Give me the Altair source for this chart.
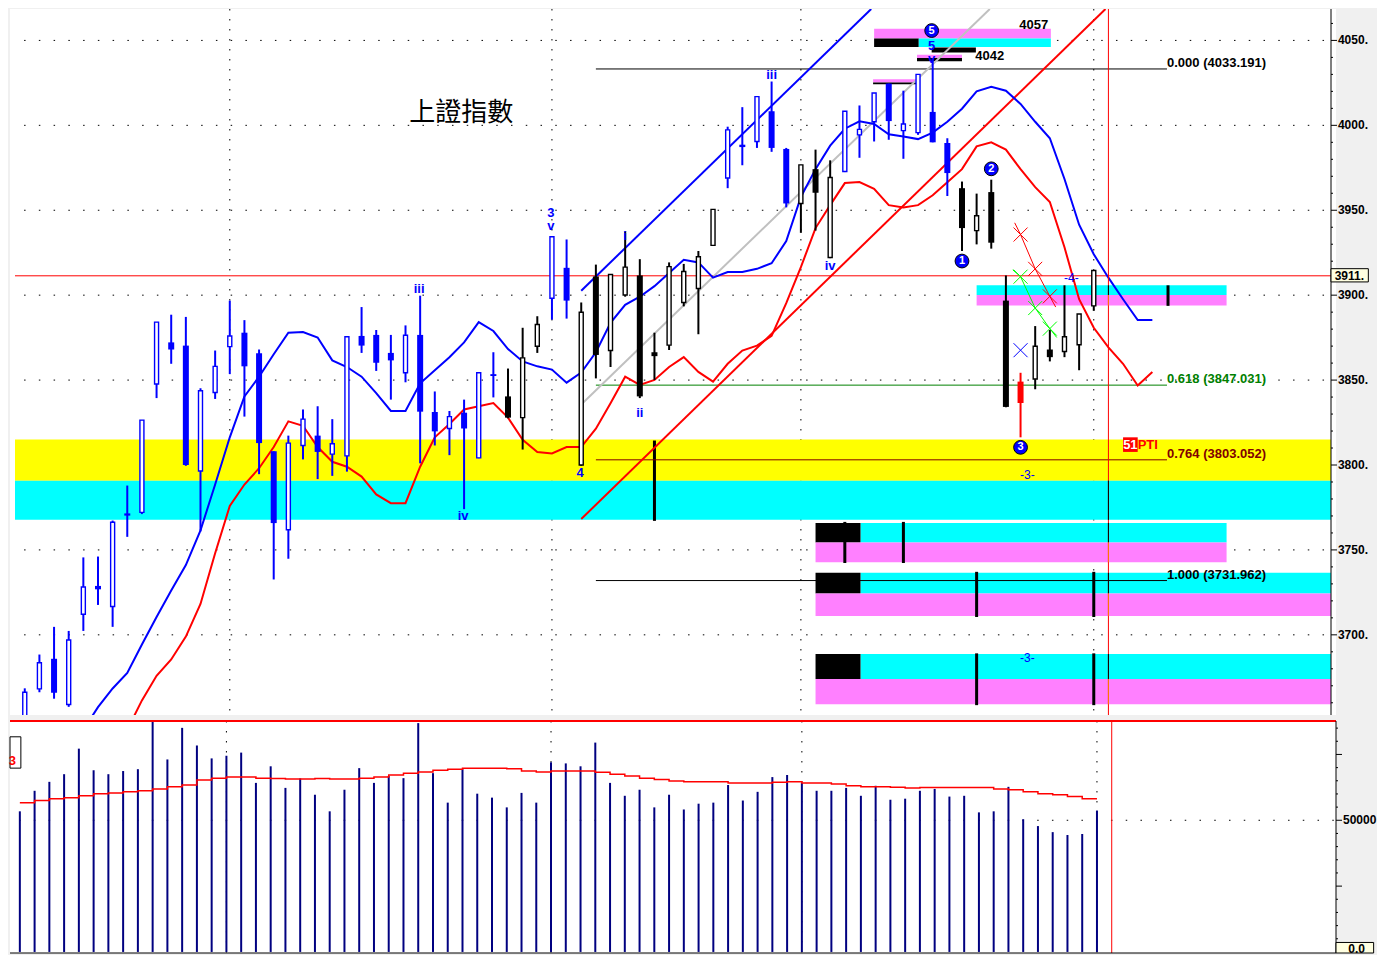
import altair as alt
import pandas as pd

# ---------------- values ----------------
candle_i = list(range(74))
opens = [3648.0, 3668.2, 3685.9, 3659.0, 3712.1, 3728.8, 3716.7, 3771.5, 3772.1, 3847.7,
         3872.2, 3870.3, 3796.5, 3842.7, 3869.7, 3877.9, 3865.8, 3808.1, 3761.9, 3811.5,
         3817.3, 3806.4, 3805.4, 3876.0, 3876.6, 3866.0, 3854.3, 3876.6, 3831.2, 3821.5,
         3830.8, 3804.2, 3853.5, 3840.4, 3827.9, 3869.9, 3898.2, 3916.1, 3800.0, 3911.0,
         3867.4, 3900.1, 3911.6, 3866.4, 3870.6, 3895.7, 3903.9, 3929.3, 3969.0, 3988.6,
         3990.5, 4008.3, 3986.1, 3954.0, 3974.2, 3922.2, 3972.8, 3994.4, 4002.1, 4024.6,
         3996.9, 3995.7, 4007.9, 3989.6, 3963.0, 3938.0, 3960.7, 3896.8, 3849.1, 3850.6,
         3868.0, 3866.8, 3870.8, 3893.7]
highs = [3668.5, 3688.4, 3704.7, 3702.3, 3745.6, 3746.1, 3767.3, 3787.9, 3826.4, 3884.1,
         3888.5, 3887.2, 3845.2, 3867.4, 3896.8, 3885.3, 3868.0, 3808.1, 3817.3, 3832.7,
         3834.6, 3827.0, 3875.5, 3893.0, 3879.5, 3876.6, 3882.2, 3899.7, 3843.3, 3831.8,
         3838.5, 3854.3, 3866.4, 3856.8, 3880.8, 3887.6, 3934.4, 3932.8, 3895.7, 3918.0,
         3912.2, 3937.6, 3921.2, 3877.9, 3919.3, 3918.4, 3926.0, 3950.5, 3999.2, 4010.7,
         4016.9, 4025.8, 3986.7, 3976.7, 3985.7, 3979.4, 4008.3, 4011.7, 4019.0, 4024.6,
         4020.4, 4030.0, 4039.6, 3992.4, 3966.9, 3959.8, 3968.0, 3911.6, 3854.3, 3881.8,
         3879.5, 3905.8, 3888.9, 3914.5]
lows = [3645.0, 3666.2, 3662.4, 3657.6, 3702.3, 3717.6, 3704.7, 3757.7, 3771.1, 3839.4,
        3859.6, 3799.5, 3760.9, 3838.9, 3853.5, 3828.5, 3794.6, 3732.6, 3744.8, 3803.3,
        3791.7, 3793.6, 3796.1, 3866.0, 3855.4, 3838.5, 3848.7, 3801.0, 3811.5, 3805.8,
        3774.0, 3804.0, 3839.8, 3827.5, 3809.1, 3866.0, 3885.6, 3886.2, 3799.5, 3851.0,
        3857.7, 3899.1, 3839.4, 3850.1, 3867.7, 3893.4, 3877.0, 3929.0, 3963.0, 3976.5,
        3986.7, 3984.4, 3951.7, 3936.7, 3938.0, 3921.8, 3972.5, 3980.9, 3990.5, 3991.5,
        3980.3, 3994.4, 3990.0, 3958.4, 3926.0, 3929.9, 3927.4, 3834.0, 3816.3, 3844.6,
        3861.0, 3863.5, 3855.8, 3890.8]
closes = [3666.2, 3683.6, 3665.9, 3697.0, 3728.2, 3726.8, 3766.3, 3770.2, 3826.4, 3884.1,
          3868.0, 3800.0, 3843.7, 3858.1, 3876.0, 3858.1, 3812.9, 3765.8, 3812.9, 3827.0,
          3807.7, 3812.5, 3875.5, 3870.3, 3860.2, 3861.6, 3876.4, 3831.4, 3819.8, 3828.5,
          3821.5, 3854.3, 3852.4, 3827.9, 3863.1, 3882.7, 3934.4, 3896.8, 3889.9, 3864.8,
          3912.2, 3916.5, 3840.4, 3864.1, 3916.8, 3913.9, 3922.6, 3950.5, 3997.3, 3987.2,
          4016.9, 3986.7, 3954.0, 3976.7, 3960.3, 3969.3, 4008.3, 3997.6, 4019.0, 4002.5,
          4000.8, 4030.0, 3990.0, 3971.9, 3939.5, 3946.8, 3930.9, 3834.2, 3836.5, 3869.9,
          3863.5, 3875.5, 3888.9, 3914.5]
candle_colors = (["#0000ff"] * 33 + ["#000000"] * 3 + ["#0000ff"] * 2 + ["#000000"] * 10
                 + ["#0000ff"] * 5 + ["#000000"] * 3 + ["#0000ff"] * 8 + ["#000000"] * 4
                 + ["#ff0000"] + ["#000000"] * 5)

volumes = [53400, 61200, 64600, 67500, 77200, 69000, 67500, 68700, 69400, 87600,
           73100, 85100, 78400, 73500, 74500, 75700, 64200, 70500, 62300, 65900,
           59700, 53400, 61600, 69800, 64200, 66800, 66000, 86900, 67900, 56700,
           69400, 60100, 58600, 54900, 60400, 56700, 72000, 71600, 70500, 79500,
           64200, 59300, 61600, 54900, 59700, 54100, 56300, 56700, 63400, 57500,
           60800, 66400, 67200, 64200, 61200, 61200, 62300, 59300, 63100, 57800,
           58200, 61200, 61900, 59000, 59300, 53000, 53400, 62700, 50400, 47800,
           45500, 44400, 44800, 53700]
volume_ma = [56700, 57500, 58200, 58600, 59300, 60100, 60400, 60800, 61200, 61900,
             62700, 63400, 65300, 66000, 66400, 66400, 66000, 65900, 65700, 65700,
             65900, 65700, 65700, 66000, 66400, 67200, 67900, 68300, 69000, 69400,
             69800, 69800, 69800, 69600, 68700, 68300, 68700, 68700, 68700, 68200,
             67500, 66800, 66000, 65500, 64900, 64600, 64600, 64600, 64200, 64200,
             64200, 64400, 64600, 64200, 64200, 63800, 63100, 62700, 62700, 62500,
             62300, 62400, 62400, 62400, 62400, 62400, 61900, 61600, 60800, 60100,
             59700, 59000, 58200, 58200]

blue_ma_i = list(range(4, 78))
blue_ma = [3644.1, 3657.4, 3668.4, 3677.6, 3694.3, 3710.5, 3726.1, 3741.1, 3761.5, 3788.5,
           3816.3, 3840.4, 3852.0, 3865.2, 3877.9, 3878.3, 3875.1, 3861.6, 3857.7, 3852.0,
           3842.3, 3831.8, 3831.8, 3848.1, 3855.8, 3863.5, 3872.2, 3884.1, 3878.9, 3868.3,
           3861.0, 3858.1, 3856.2, 3848.5, 3854.4, 3866.4, 3883.7, 3894.3, 3899.1, 3905.3,
           3913.0, 3920.8, 3919.3, 3910.3, 3913.6, 3913.6, 3915.5, 3918.8, 3931.8, 3957.8,
           3974.2, 3988.0, 3998.0, 4002.4, 4000.8, 3994.7, 3993.4, 3991.9, 3995.7, 4002.1,
           4009.8, 4020.0, 4022.7, 4020.4, 4012.6, 4002.1, 3992.4, 3968.4, 3941.5, 3924.1,
           3910.3, 3897.6, 3885.4, 3885.4]
red_ma_i = list(range(7, 78))
red_ma = [3644.1, 3661.4, 3675.9, 3685.5, 3699.0, 3718.2, 3748.0, 3775.9, 3788.5, 3798.1,
          3810.6, 3825.7, 3823.1, 3810.6, 3801.9, 3799.0, 3793.2, 3782.7, 3777.5, 3777.5,
          3799.0, 3816.3, 3824.1, 3832.7, 3834.6, 3836.5, 3827.9, 3814.8, 3807.7, 3806.8,
          3810.6, 3810.6, 3821.4, 3836.4, 3852.0, 3847.2, 3850.1, 3857.7, 3863.5, 3854.8,
          3849.1, 3859.6, 3867.4, 3870.3, 3876.0, 3895.3, 3916.5, 3939.5, 3953.0, 3966.0,
          3966.6, 3962.6, 3953.0, 3951.7, 3953.0, 3958.8, 3966.5, 3974.2, 3987.6, 3990.0,
          3985.7, 3974.2, 3963.6, 3954.9, 3928.2, 3897.6, 3880.8, 3869.3, 3859.6, 3846.8,
          3854.8]

# channel lines: (segment, index, price)
chan_seg = ["blue", "blue", "gray", "gray", "red", "red"]
chan_i = [38.0, 57.8, 38.0, 65.9, 38.0, 73.8]
chan_p = [3902.6, 4068.5, 3835.6, 4068.5, 3768.2, 4068.5]
chan_col = ["#0000ff", "#0000ff", "#c0c0c0", "#c0c0c0", "#ff0000", "#ff0000"]

# fibonacci levels
fib_levels = [4033.191, 3847.031, 3803.052, 3731.962]
fib_labels = ["0.000 (4033.191)", "0.618 (3847.031)", "0.764 (3803.052)", "1.000 (3731.962)"]
fib_colors = ["#000000", "#008000", "#800000", "#000000"]
fib_start, fib_end = 39.0, 78.0

last_price = 3911.4
cursor_i = 74.0

# zones (x1, x2, p1, p2, colour)
zone_x1 = [-0.667, -0.667, 65.0, 65.0, 57.07, 54.0, 54.0, 57.07, 54.0, 54.0, 57.07, 54.0, 54.0,
           58.0, 58.0, 61.05, 61.93, 60.93, 60.93, 57.93, 57.93]
zone_x2 = [89.2, 89.2, 82.07, 82.07, 82.07, 57.07, 82.07, 89.2, 57.07, 89.2, 89.2, 57.07, 89.2,
           70.07, 61.05, 70.07, 64.95, 64.0, 64.0, 61.0, 61.0]
zone_p1 = [3790.8, 3767.7, 3900.1, 3893.9, 3754.4, 3754.4, 3742.8, 3724.4, 3724.4, 3711.1, 3674.0, 3674.0, 3659.1,
           4051.2, 4046.1, 4046.1, 4042.9, 4039.6, 4037.7, 4025.2, 4024.2]
zone_p2 = [3815.0, 3790.8, 3905.8, 3900.1, 3765.9, 3765.9, 3754.4, 3736.5, 3736.5, 3724.4, 3688.7, 3688.7, 3674.0,
           4056.9, 4051.2, 4051.2, 4045.8, 4041.5, 4039.6, 4027.1, 4025.2]
zone_col = ["#ffff00", "#00ffff", "#00ffff", "#ff80ff", "#00ffff", "#000000", "#ff80ff", "#00ffff", "#000000",
            "#ff80ff", "#00ffff", "#000000", "#ff80ff",
            "#ff80ff", "#000000", "#00ffff", "#000000", "#ff80ff", "#000000", "#ff80ff", "#000000"]

# thick black projection bars
bar_i = [56.0, 60.0, 65.0, 73.0, 65.0, 73.0, 43.0, 78.07]
bar_p1 = [3742.3, 3742.3, 3710.5, 3710.5, 3658.6, 3658.6, 3767.1, 3893.7]
bar_p2 = [3766.5, 3766.5, 3737.1, 3737.1, 3689.1, 3689.1, 3814.4, 3905.8]

# cursor line crossing the zones
xor_p1 = [3767.7, 3754.4, 3724.4, 3674.0, 3900.1, 3742.8, 3711.1, 3659.1, 3893.9]
xor_p2 = [3790.8, 3765.9, 3736.5, 3688.7, 3905.8, 3754.4, 3724.4, 3674.0, 3900.1]
xor_col = ["#000000"] * 5 + ["#ff8000"] * 4

# X markers
xm_i = [68.0, 69.0, 70.0, 68.0, 69.0, 70.0, 68.0]
xm_p = [3935.7, 3915.5, 3899.3, 3910.9, 3892.4, 3880.3, 3867.6]
xm_col = ["#ff0000"] * 3 + ["#00ff00"] * 3 + ["#0000ff"]
thin_seg = ["r", "r", "r", "r", "r", "g", "g", "g", "g", "g"]
thin_i = [67.6, 68.0, 69.0, 70.0, 70.4, 67.47, 68.0, 69.0, 70.0, 70.47]
thin_p = [3942.6, 3935.7, 3915.5, 3899.3, 3893.0, 3914.9, 3910.9, 3892.4, 3880.3, 3875.1]
thin_col = ["#ff0000"] * 5 + ["#00ff00"] * 5

# wave labels
wave_i = [35.93, 35.93, 26.93, 29.93, 37.93, 41.0, 42.0, 51.0, 55.0, 61.93, 61.93]
wave_p = [3948.4, 3940.9, 3903.9, 3770.0, 3795.4, 3935.1, 3830.6, 4029.8, 3917.2, 4046.5, 4039.0]
wave_t = ["3", "v", "iii", "iv", "4", "i", "ii", "iii", "iv", "5", "v"]
small_i = [71.47, 68.47, 68.47]
small_p = [3910.3, 3794.2, 3686.3]
small_t = ["-4-", "-3-", "-3-"]

circ_i = [61.93, 64.0, 66.0, 68.0]
circ_p = [4055.8, 3920.1, 3974.4, 3810.4]
circ_t = ["5", "1", "2", "3"]

tag_i = [68.9, 65.9]
tag_p = [4059.2, 4040.8]
tag_t = ["4057", "4042"]

month_i = [14.0, 36.0, 53.0, 73.0]

price_ticks = list(range(3660, 4061, 10))
price_labels = list(range(3700, 4051, 50))
vol_ticks = list(range(0, 85001, 5000))
vol_labels = [50000]

# ---------------- layout constants ----------------
W, H1, H2 = 1326, 706, 232
XMIN, XMAX = -0.667, 89.2
PMIN, PMAX = 3652.8, 4068.5
VMIN, VMAX = -400, 87700
PX = W / (XMAX - XMIN)
dash_off = PX - ((0 - XMIN) * PX - 0.75)
NUM_FONT = "Liberation Sans"

xs = alt.Scale(domain=[XMIN, XMAX], nice=False, zero=False)
ys = alt.Scale(domain=[PMIN, PMAX], nice=False, zero=False)
vs = alt.Scale(domain=[VMIN, VMAX], nice=False, zero=False)

hidden_axis = alt.Axis(orient="right", labels=False, ticks=False, domain=False, grid=False, title=None)


def X(f):
    return alt.X(f"{f}:Q", scale=xs, axis=None, title=None)


def Y(f):
    return alt.Y(f"{f}:Q", scale=ys, axis=None, title=None)


def V(f):
    return alt.Y(f"{f}:Q", scale=vs, axis=None, title=None)


# ---------------- tables ----------------
cd = pd.DataFrame({"i": candle_i, "o": opens, "h": highs, "l": lows, "c": closes, "col": candle_colors})
cd["hollow"] = cd["c"] >= cd["o"]
hollow = cd[cd["hollow"]]
solid = cd[~cd["hollow"]]

grid_df = pd.DataFrame({"p": price_labels, "x1": XMIN, "x2": XMAX})
month_df = pd.DataFrame({"i": month_i})
zones = pd.DataFrame({"x1": zone_x1, "x2": zone_x2, "p1": zone_p1, "p2": zone_p2, "col": zone_col})
bars = pd.DataFrame({"i": bar_i, "p1": bar_p1, "p2": bar_p2})
fib = pd.DataFrame({"p": fib_levels, "t": fib_labels, "col": fib_colors, "x1": fib_start, "x2": fib_end})
chan = pd.DataFrame({"seg": chan_seg, "i": chan_i, "p": chan_p, "col": chan_col})
bma = pd.DataFrame({"i": blue_ma_i, "p": blue_ma})
rma = pd.DataFrame({"i": red_ma_i, "p": red_ma})
xor = pd.DataFrame({"p1": xor_p1, "p2": xor_p2, "col": xor_col, "i": cursor_i})
xm = pd.DataFrame({"i": xm_i, "p": xm_p, "col": xm_col})
thin = pd.DataFrame({"seg": thin_seg, "i": thin_i, "p": thin_p, "col": thin_col})
waves = pd.DataFrame({"i": wave_i, "p": wave_p, "t": wave_t})
smalls = pd.DataFrame({"i": small_i, "p": small_p, "t": small_t})
circs = pd.DataFrame({"i": circ_i, "p": circ_p, "t": circ_t})
tags = pd.DataFrame({"i": tag_i, "p": tag_p, "t": tag_t})

# hand-drawn right axis (ticks + labels outside the plot area)
pt = pd.DataFrame({"p": price_ticks})
pt["x1"] = XMAX
pt["x2"] = XMAX + pt["p"].apply(lambda v: 6 if v % 50 == 0 else 2) / PX
pl = pd.DataFrame({"p": price_labels, "t": [f"{v}." for v in price_labels]})
pl["xl"] = XMAX + 7 / PX
vt = pd.DataFrame({"v": vol_ticks})
vt["x1"] = XMAX
vt["x2"] = XMAX + vt["v"].apply(lambda v: 6 if v % 25000 == 0 else 2) / PX
vl = pd.DataFrame({"v": vol_labels, "t": [str(v) for v in vol_labels]})
vl["xl"] = XMAX + 7 / PX

# ---------------- price panel ----------------
grid = alt.Chart(grid_df).mark_rule(
    color="black", strokeWidth=1, strokeDash=[1.5, PX - 1.5], strokeDashOffset=dash_off
).encode(x=X("x1"), x2="x2:Q", y=alt.Y("p:Q", scale=ys, axis=hidden_axis, title=None))

months = alt.Chart(month_df).mark_rule(color="black", strokeWidth=1, strokeDash=[1.5, 8.5]).encode(
    x=X("i"), y=alt.datum(PMAX, scale=ys), y2=alt.datum(PMIN))

zone_layer = alt.Chart(zones).mark_rect(clip=True).encode(
    x=X("x1"), x2="x2:Q", y=Y("p1"), y2="p2:Q", color=alt.Color("col:N", scale=None))

bar_layer = alt.Chart(bars).mark_rule(color="black", strokeWidth=3, clip=True).encode(
    x=X("i"), y=Y("p1"), y2="p2:Q")

fib_lines = alt.Chart(fib).mark_rule(strokeWidth=1).encode(
    x=X("x1"), x2="x2:Q", y=Y("p"), color=alt.Color("col:N", scale=None))
fib_text = alt.Chart(fib).mark_text(
    align="left", baseline="bottom", dy=1, font=NUM_FONT, fontSize=13, fontWeight="bold").encode(
    x=X("x2"), y=Y("p"), text="t:N", color=alt.Color("col:N", scale=None))

last_line = alt.Chart(pd.DataFrame({"p": [last_price], "x1": [XMIN], "x2": [XMAX]})).mark_rule(
    color="#ff0000", strokeWidth=1).encode(x=X("x1"), x2="x2:Q", y=Y("p"))

chan_layer = alt.Chart(chan).mark_line(strokeWidth=2, clip=True).encode(
    x=X("i"), y=Y("p"), detail="seg:N", color=alt.Color("col:N", scale=None))

bma_layer = alt.Chart(bma).mark_line(color="#0000ff", strokeWidth=2, clip=True).encode(x=X("i"), y=Y("p"))
rma_layer = alt.Chart(rma).mark_line(color="#ff0000", strokeWidth=2, clip=True).encode(x=X("i"), y=Y("p"))

cursor = alt.Chart(pd.DataFrame({"i": [cursor_i]})).mark_rule(color="#ff0000", strokeWidth=1).encode(
    x=X("i"), y=alt.datum(PMAX, scale=ys), y2=alt.datum(PMIN))
xor_layer = alt.Chart(xor).mark_rule(strokeWidth=1).encode(
    x=X("i"), y=Y("p1"), y2="p2:Q", color=alt.Color("col:N", scale=None))

wicks = alt.Chart(cd).mark_rule(strokeWidth=2, clip=True).encode(
    x=X("i"), y=Y("l"), y2="h:Q", color=alt.Color("col:N", scale=None))
solid_bodies = alt.Chart(solid).mark_bar(size=6, clip=True).encode(
    x=X("i"), y=Y("o"), y2="c:Q", color=alt.Color("col:N", scale=None))
hollow_bodies = alt.Chart(hollow).mark_bar(size=4, fill="white", strokeWidth=1.4, clip=True).encode(
    x=X("i"), y=Y("o"), y2="c:Q", stroke=alt.Stroke("col:N", scale=None))

thin_layer = alt.Chart(thin).mark_line(strokeWidth=1).encode(
    x=X("i"), y=Y("p"), detail="seg:N", color=alt.Color("col:N", scale=None))
xm_layer = alt.Chart(xm).mark_point(
    shape="M-1,-1L1,1M-1,1L1,-1", filled=False, size=196, strokeWidth=1, opacity=1).encode(
    x=X("i"), y=Y("p"), color=alt.Color("col:N", scale=None))

wave_text = alt.Chart(waves).mark_text(
    font=NUM_FONT, fontSize=13, fontWeight="bold", color="#0000ff", baseline="middle").encode(
    x=X("i"), y=Y("p"), text="t:N")
small_text = alt.Chart(smalls).mark_text(
    font=NUM_FONT, fontSize=12, color="#0000ff", baseline="middle").encode(
    x=X("i"), y=Y("p"), text="t:N")
circ_dots = alt.Chart(circs).mark_point(
    shape="circle", filled=True, size=190, color="#0000ff", stroke="#000000", strokeWidth=1, opacity=1).encode(
    x=X("i"), y=Y("p"))
circ_text = alt.Chart(circs).mark_text(
    font=NUM_FONT, fontSize=11, fontWeight="bold", color="white", baseline="middle").encode(
    x=X("i"), y=Y("p"), text="t:N")
tag_text = alt.Chart(tags).mark_text(
    font=NUM_FONT, fontSize=13, fontWeight="bold", color="black", baseline="middle").encode(
    x=X("i"), y=Y("p"), text="t:N")

pti_box = alt.Chart(pd.DataFrame({"x1": [75.0], "x2": [76.0], "p1": [3807.7], "p2": [3816.3]})).mark_rect(
    color="#ff0000").encode(x=X("x1"), x2="x2:Q", y=Y("p1"), y2="p2:Q")
pti_51 = alt.Chart(pd.DataFrame({"i": [75.5], "p": [3812.0], "t": ["51"]})).mark_text(
    font=NUM_FONT, fontSize=13, fontWeight="bold", color="white", baseline="middle").encode(
    x=X("i"), y=Y("p"), text="t:N")
pti_txt = alt.Chart(pd.DataFrame({"i": [76.0], "p": [3812.0], "t": ["PTI"]})).mark_text(
    font=NUM_FONT, fontSize=13, fontWeight="bold", color="#ff0000", baseline="middle", align="left").encode(
    x=X("i"), y=Y("p"), text="t:N")

title_txt = alt.Chart(pd.DataFrame({"i": [29.8], "p": [4007.3], "t": ["上證指數"]})).mark_text(
    font="Noto Sans CJK TC", fontSize=26, color="black", baseline="middle").encode(
    x=X("i"), y=Y("p"), text="t:N")

p_domain = alt.Chart(pd.DataFrame({"i": [XMAX]})).mark_rule(color="black", strokeWidth=1).encode(
    x=X("i"), y=alt.datum(PMAX, scale=ys), y2=alt.datum(PMIN))
p_ticks = alt.Chart(pt).mark_rule(color="black", strokeWidth=1).encode(x=X("x1"), x2="x2:Q", y=Y("p"))
p_labels = alt.Chart(pl).mark_text(
    font=NUM_FONT, fontSize=12, fontWeight="bold", color="black", baseline="middle", align="left").encode(
    x=X("xl"), y=Y("p"), text="t:N")

last_box = alt.Chart(pd.DataFrame({"x1": [89.2], "x2": [91.75], "p1": [3907.8], "p2": [3915.6]})).mark_rect(
    fill="#ffffe1", stroke="black", strokeWidth=1).encode(x=X("x1"), x2="x2:Q", y=Y("p1"), y2="p2:Q")
last_txt = alt.Chart(pd.DataFrame({"i": [89.45], "p": [last_price], "t": ["3911."]})).mark_text(
    font=NUM_FONT, fontSize=12, fontWeight="bold", color="black", baseline="middle", align="left").encode(
    x=X("i"), y=Y("p"), text="t:N")

price = alt.layer(
    grid, months, zone_layer, bar_layer, fib_lines, last_line, chan_layer,
    bma_layer, rma_layer, cursor, xor_layer, wicks, solid_bodies, hollow_bodies,
    thin_layer, xm_layer, wave_text, small_text, circ_dots, circ_text, tag_text,
    fib_text, pti_box, pti_51, pti_txt, title_txt, p_domain, p_ticks, p_labels, last_box, last_txt
).properties(width=W, height=H1)

# ---------------- volume panel ----------------
vd = pd.DataFrame({"i": candle_i, "v": volumes, "ma": volume_ma, "zero": 0})
vgrid = alt.Chart(pd.DataFrame({"v": [50000], "x1": [XMIN], "x2": [XMAX]})).mark_rule(
    color="black", strokeWidth=1, strokeDash=[1.5, PX - 1.5], strokeDashOffset=dash_off
).encode(x=X("x1"), x2="x2:Q", y=alt.Y("v:Q", scale=vs, axis=hidden_axis, title=None))
vmonths = alt.Chart(month_df).mark_rule(color="black", strokeWidth=1, strokeDash=[1.5, 8.5]).encode(
    x=X("i"), y=alt.datum(VMAX, scale=vs), y2=alt.datum(VMIN))
vbars = alt.Chart(vd).mark_rule(color="#000080", strokeWidth=2, clip=True).encode(
    x=X("i"), y=V("zero"), y2="v:Q")
vma = alt.Chart(vd).mark_line(color="#ff0000", strokeWidth=1.5, interpolate="step-after").encode(
    x=X("i"), y=V("ma"))
vcursor = alt.Chart(pd.DataFrame({"i": [cursor_i]})).mark_rule(color="#ff0000", strokeWidth=1).encode(
    x=X("i"), y=alt.datum(VMAX, scale=vs), y2=alt.datum(VMIN))
vtop = alt.Chart(pd.DataFrame({"v": [VMAX], "x1": [XMIN], "x2": [XMAX]})).mark_rule(
    color="#ff0000", strokeWidth=2).encode(x=X("x1"), x2="x2:Q", y=V("v"))
vbottom = alt.Chart(pd.DataFrame({"v": [VMIN], "x1": [XMIN], "x2": [XMAX]})).mark_rule(
    color="#000000", strokeWidth=1).encode(x=X("x1"), x2="x2:Q", y=V("v"))
vleft_box = alt.Chart(pd.DataFrame({"x1": [XMIN], "x2": [0.07], "v1": [69800], "v2": [81700]})).mark_rect(
    fill="white", stroke="black", strokeWidth=1).encode(x=X("x1"), x2="x2:Q", y=V("v1"), y2="v2:Q")
vleft_txt = alt.Chart(pd.DataFrame({"i": [-0.75], "v": [72500], "t": ["3"]})).mark_text(
    font=NUM_FONT, fontSize=13, fontWeight="bold", color="#ff0000", baseline="middle", align="left").encode(
    x=X("i"), y=V("v"), text="t:N")
v_domain = alt.Chart(pd.DataFrame({"i": [XMAX]})).mark_rule(color="black", strokeWidth=1).encode(
    x=X("i"), y=alt.datum(VMAX, scale=vs), y2=alt.datum(VMIN))
v_ticks = alt.Chart(vt).mark_rule(color="black", strokeWidth=1).encode(x=X("x1"), x2="x2:Q", y=V("v"))
v_labels = alt.Chart(vl).mark_text(
    font=NUM_FONT, fontSize=12, fontWeight="bold", color="black", baseline="middle", align="left").encode(
    x=X("xl"), y=V("v"), text="t:N")
vzero_box = alt.Chart(pd.DataFrame({"x1": [89.2], "x2": [91.75], "v1": [-400], "v2": [3600]})).mark_rect(
    fill="#ffffe1", stroke="black", strokeWidth=1).encode(x=X("x1"), x2="x2:Q", y=V("v1"), y2="v2:Q")
vzero_txt = alt.Chart(pd.DataFrame({"i": [90.6], "v": [1200], "t": ["0.0"]})).mark_text(
    font=NUM_FONT, fontSize=12, fontWeight="bold", color="black", baseline="middle").encode(
    x=X("i"), y=V("v"), text="t:N")

volume = alt.layer(
    vgrid, vmonths, vbars, vma, vcursor, vtop, vbottom, vleft_box, vleft_txt,
    v_domain, v_ticks, v_labels, vzero_box, vzero_txt
).properties(width=W, height=H2)

chart = alt.vconcat(price, volume, spacing=4).properties(
    padding=0, background="#f0f0f0"
).configure_view(stroke=None, fill="white")

chart.save("out.html", embed_options={"renderer": "svg", "actions": False})
